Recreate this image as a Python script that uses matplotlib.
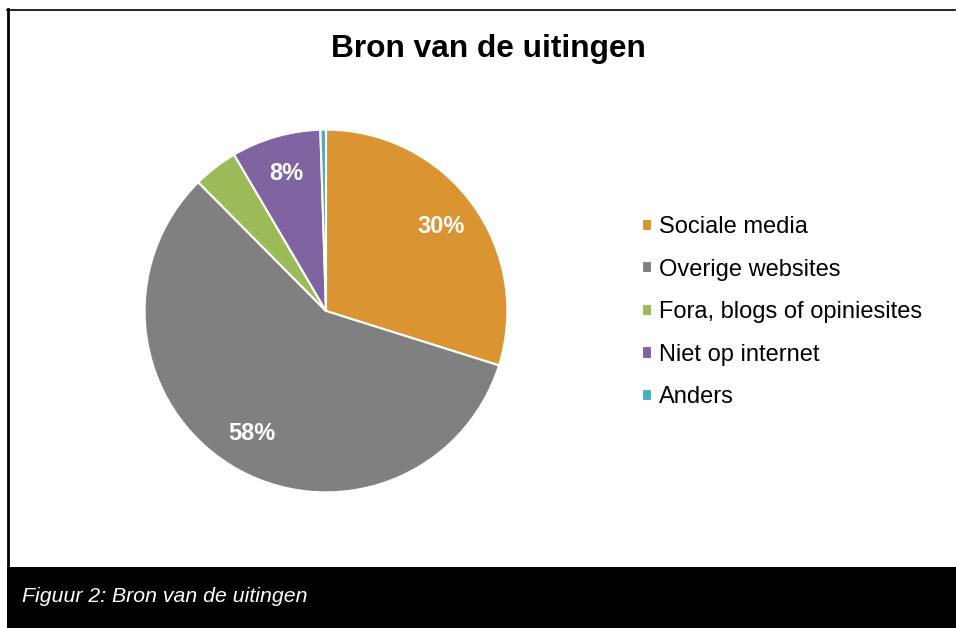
import matplotlib
matplotlib.use("Agg")
import matplotlib.pyplot as plt
from matplotlib.patches import Rectangle
from matplotlib.lines import Line2D
import numpy as np

plt.rcParams['font.family'] = ['Liberation Sans', 'DejaVu Sans']

categories = ["Sociale media", "Overige websites", "Fora, blogs of opiniesites",
              "Niet op internet", "Anders"]
values = [30, 58, 4, 8, 0.5]
colors = ["#DA9432", "#808080", "#9BBB59", "#8064A2", "#4BACC6"]
title = "Bron van de uitingen"
caption = "Figuur 2: Bron van de uitingen"

W, H = 956, 628
fig = plt.figure(figsize=(W / 100, H / 100), dpi=100)

cx, cy, r = 326, 311, 185
ax = fig.add_axes([(cx - r) / W, 1 - (cy + r) / H, 2 * r / W, 2 * r / H])

def fmt(p):
    return f"{p:.0f}%" if p >= 5 else ""

wedges, texts, autotexts = ax.pie(
    values, colors=colors, startangle=90, counterclock=False,
    autopct=fmt, pctdistance=0.79,
    wedgeprops=dict(edgecolor="white", linewidth=1.5),
    textprops=dict(color="white", fontsize=17, fontweight="bold"))
ax.set_xlim(-1.02, 1.02)
ax.set_ylim(-1.02, 1.02)
ax.set_aspect("equal")

leg = fig.legend(wedges, categories, loc="upper left",
                 bbox_to_anchor=(621 / W, 1 - 195 / H), frameon=False,
                 fontsize=17, handlelength=0.42, handleheight=0.42,
                 handletextpad=0.3, labelspacing=0.87)

fig.text(488 / W, 1 - 49 / H, title, ha="center", va="center",
         fontsize=22.8, fontweight="bold")

# frame lines
fig.add_artist(Line2D([7 / W, 955 / W], [1 - 9.5 / H] * 2, color="black", lw=1.2))
fig.add_artist(Line2D([8 / W, 8 / W], [1 - 9 / H, 1 - 567 / H], color="black", lw=2))
fig.add_artist(Rectangle((7 / W, 0), 1, (H - 567) / H, transform=fig.transFigure,
                         facecolor="black", edgecolor="none"))
fig.text(22 / W, 1 - 597 / H, caption, ha="left", va="center", color="white",
         fontsize=15.3, fontstyle="italic")

fig.savefig("out.png", dpi=100)
